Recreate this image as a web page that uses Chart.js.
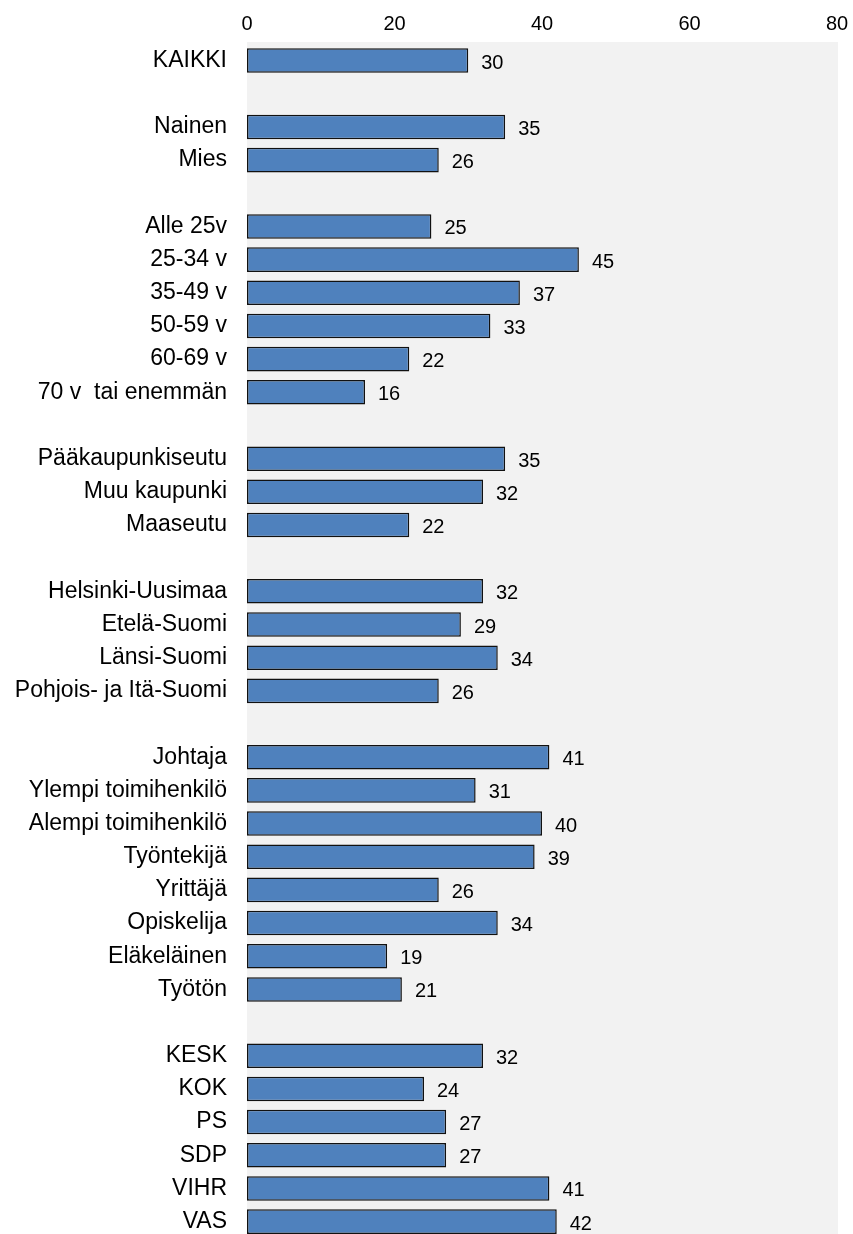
<!DOCTYPE html>
<html>
<head>
<meta charset="utf-8">
<script src="https://cdn.jsdelivr.net/npm/chart.js@4/dist/chart.umd.min.js"></script>
<style>
  html, body { margin: 0; padding: 0; background: #fff; overflow: hidden; }
  canvas { display: block; }
</style>
</head>
<body>
<canvas id="chart" width="853" height="1264"></canvas>
<script>
// dados (linhas vazias separam os grupos)
const categorias = [
  'KAIKKI', '',
  'Nainen', 'Mies', '',
  'Alle 25v', '25-34 v', '35-49 v', '50-59 v', '60-69 v', '70 v  tai enemmän', '',
  'Pääkaupunkiseutu', 'Muu kaupunki', 'Maaseutu', '',
  'Helsinki-Uusimaa', 'Etelä-Suomi', 'Länsi-Suomi', 'Pohjois- ja Itä-Suomi', '',
  'Johtaja', 'Ylempi toimihenkilö', 'Alempi toimihenkilö', 'Työntekijä', 'Yrittäjä', 'Opiskelija', 'Eläkeläinen', 'Työtön', '',
  'KESK', 'KOK', 'PS', 'SDP', 'VIHR', 'VAS'
];
const valores = [
  30, null,
  35, 26, null,
  25, 45, 37, 33, 22, 16, null,
  35, 32, 22, null,
  32, 29, 34, 26, null,
  41, 31, 40, 39, 26, 34, 19, 21, null,
  32, 24, 27, 27, 41, 42
];
const ticksX = [0, 20, 40, 60, 80];

// fundo cinza da area do grafico
const fundo = {
  id: 'fundo',
  beforeDraw(chart) {
    const a = chart.chartArea;
    const ctx = chart.ctx;
    ctx.save();
    ctx.fillStyle = '#f2f2f2';
    ctx.fillRect(a.left, a.top - 2, a.right - a.left + 1, a.bottom - a.top + 2);
    ctx.restore();
  }
};

// rotulos de valor a direita das barras
const rotulos = {
  id: 'rotulos',
  afterDatasetsDraw(chart) {
    const ctx = chart.ctx;
    const meta = chart.getDatasetMeta(0);
    ctx.save();
    ctx.font = '20px "Liberation Sans", Arial, sans-serif';
    ctx.fillStyle = '#000';
    ctx.textAlign = 'left';
    ctx.textBaseline = 'middle';
    meta.data.forEach((bar, i) => {
      const v = valores[i];
      if (v === null) return;
      ctx.fillText(String(v), bar.x + 13, bar.y + 2.5);
    });
    ctx.restore();
  }
};

const config = {
  type: 'bar',
  data: {
    labels: categorias,
    datasets: [{
      data: valores,
      backgroundColor: '#4f81bd',
      borderColor: '#111',
      borderWidth: 1.5,
      borderSkipped: false,
      barPercentage: 0.74,
      categoryPercentage: 1
    }]
  },
  options: {
    indexAxis: 'y',
    responsive: false,
    animation: false,
    layout: { padding: { left: 0, right: 16, top: 0, bottom: 2 } },
    plugins: {
      legend: { display: false },
      tooltip: { enabled: false }
    },
    scales: {
      x: {
        position: 'top',
        min: 0,
        max: 80,
        afterBuildTicks: (scale) => { scale.ticks = ticksX.map(v => ({ value: v })); },
        afterFit: (scale) => { scale.height = 44; },
        grid: { display: false },
        border: { display: false },
        ticks: {
          color: '#000',
          padding: 0,
          font: { family: '"Liberation Sans", Arial, sans-serif', size: 20 }
        }
      },
      y: {
        afterFit: (scale) => { scale.width = 247; },
        grid: { display: false },
        border: { display: false },
        ticks: {
          color: '#000',
          padding: 12,
          autoSkip: false,
          font: { family: '"Liberation Sans", Arial, sans-serif', size: 23 }
        }
      }
    }
  },
  plugins: [fundo, rotulos]
};

let myChart = new Chart(document.getElementById('chart'), config);
</script>
</body>
</html>
